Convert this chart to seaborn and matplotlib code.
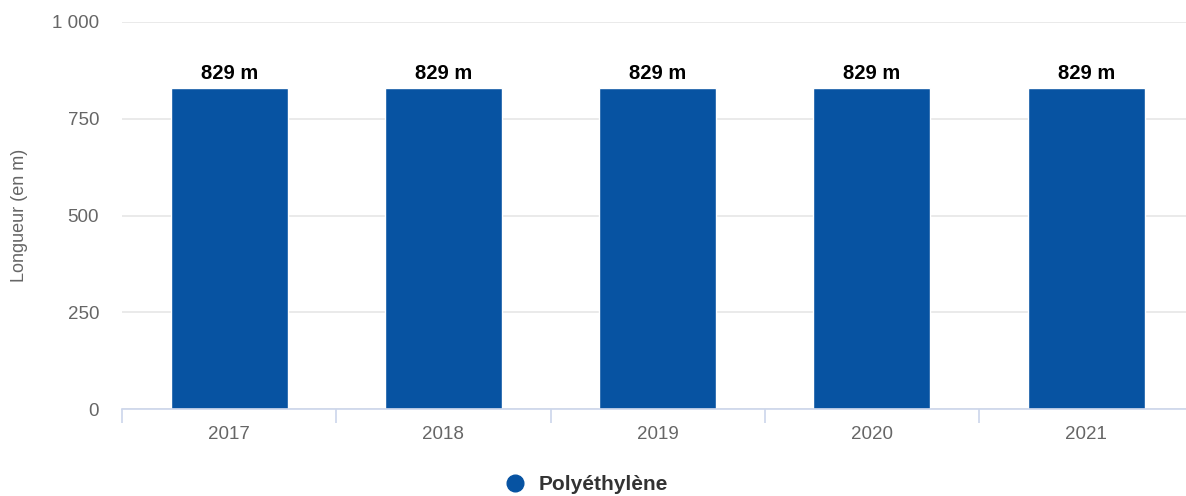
import numpy as np
import pandas as pd
import seaborn as sns
import matplotlib.pyplot as plt
from matplotlib.lines import Line2D
from matplotlib.ticker import FuncFormatter, FixedLocator

# chart data
years = ["2017", "2018", "2019", "2020", "2021"]
lengths = [829, 829, 829, 829, 829]
series_name = "Polyéthylène"
y_ticks = [0, 250, 500, 750, 1000]

bar_color = "#0753a2"
grid_color = "#e6e6e6"
axis_color = "#ccd6eb"
label_color = "#666666"

df = pd.DataFrame({"year": years, "length": lengths, "series": series_name})

sns.set_theme(style="white")
plt.rcParams["font.family"] = ["Liberation Sans", "DejaVu Sans"]

fig = plt.figure(figsize=(11.86, 4.96), dpi=100)
ax = fig.add_axes([122 / 1186, 1 - 409 / 496, 1 - 122 / 1186, (409 - 22) / 496])

sns.barplot(data=df, x="year", y="length", color=bar_color, width=0.546,
            saturation=1, ax=ax, zorder=3)

# category boundary ticks on the x axis
ax.set_xticks(np.arange(-0.5, 4.6, 1.0), minor=True)
ax.tick_params(axis="x", which="minor", bottom=True, length=10, width=1.2, color=axis_color)

ax.set_ylim(0, 1000)
ax.set_xlim(-0.5, 4.466)
ax.yaxis.set_major_locator(FixedLocator(y_ticks))
ax.yaxis.set_major_formatter(FuncFormatter(lambda v, p: f"{int(v):,}".replace(",", " ")))
ax.grid(axis="y", color=grid_color, linewidth=1.2, zorder=0)
ax.set_axisbelow(True)

for side in ["top", "right", "left"]:
    ax.spines[side].set_visible(False)
ax.spines["bottom"].set_color(axis_color)
ax.spines["bottom"].set_linewidth(1.2)
ax.spines["bottom"].set_zorder(4)

ax.tick_params(axis="y", length=0, labelsize=13.5, labelcolor=label_color, pad=16.5)
ax.tick_params(axis="x", which="major", length=0, labelsize=13.5, labelcolor=label_color, pad=12)

ax.set_xlabel("")
ax.set_ylabel("Longueur (en m)", fontsize=13, color=label_color, labelpad=17)

for c in ax.containers:
    ax.bar_label(c, labels=[f"{v} m" for v in lengths], padding=4,
                 fontsize=14.5, fontweight="bold", color="black")

handle = Line2D([], [], marker="o", linestyle="", markersize=12,
                markerfacecolor=bar_color, markeredgecolor=bar_color)
fig.legend([handle], [series_name], loc="center", bbox_to_anchor=(581 / 1186, 1 - 485 / 496),
           frameon=False, handletextpad=0.1, prop={"size": 15, "weight": "bold"},
           labelcolor="#333333")

fig.savefig("out.png", dpi=100)
